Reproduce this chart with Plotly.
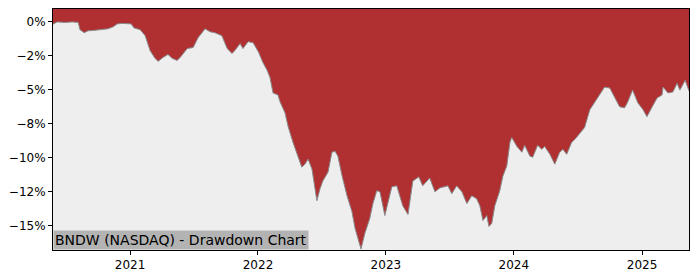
import plotly.graph_objects as go

dates = [
    "2020-05-26", "2020-06-07", "2020-06-30", "2020-07-20", "2020-08-06", "2020-08-11",
    "2020-08-23", "2020-09-03", "2020-09-23", "2020-10-13", "2020-10-30", "2020-11-14",
    "2020-11-25", "2020-12-09", "2020-12-23", "2021-01-04", "2021-01-12", "2021-01-30",
    "2021-02-13", "2021-02-27", "2021-03-13", "2021-03-22", "2021-04-05", "2021-04-19",
    "2021-05-01", "2021-05-15", "2021-05-24", "2021-06-13", "2021-06-30", "2021-07-14",
    "2021-08-03", "2021-08-17", "2021-08-31", "2021-09-20", "2021-10-05", "2021-10-19",
    "2021-10-27", "2021-11-11", "2021-11-19", "2021-12-04", "2021-12-18", "2022-01-03",
    "2022-01-15", "2022-01-27", "2022-02-04", "2022-02-13", "2022-02-27", "2022-03-05",
    "2022-03-19", "2022-03-28", "2022-04-11", "2022-04-25", "2022-05-06", "2022-05-15",
    "2022-05-24", "2022-06-04", "2022-06-13", "2022-06-18", "2022-06-27", "2022-07-05",
    "2022-07-20", "2022-07-31", "2022-08-09", "2022-08-17", "2022-08-29", "2022-09-12",
    "2022-09-26", "2022-10-05", "2022-10-13", "2022-10-22", "2022-11-02", "2022-11-16",
    "2022-11-25", "2022-12-06", "2022-12-15", "2022-12-29", "2023-01-18", "2023-02-01",
    "2023-02-18", "2023-03-05", "2023-03-19", "2023-04-05", "2023-04-16", "2023-05-06",
    "2023-05-21", "2023-06-04", "2023-06-27", "2023-07-08", "2023-07-22", "2023-08-06",
    "2023-08-20", "2023-09-03", "2023-09-17", "2023-09-26", "2023-10-05", "2023-10-16",
    "2023-10-22", "2023-10-30", "2023-11-08", "2023-11-22", "2023-12-01", "2023-12-12",
    "2023-12-21", "2023-12-26", "2024-01-10", "2024-01-24", "2024-02-01", "2024-02-16",
    "2024-02-24", "2024-03-09", "2024-03-21", "2024-03-29", "2024-04-13", "2024-04-27",
    "2024-05-11", "2024-05-20", "2024-05-31", "2024-06-14", "2024-06-23", "2024-07-07",
    "2024-07-21", "2024-08-05", "2024-08-19", "2024-09-02", "2024-09-16", "2024-10-01",
    "2024-10-15", "2024-10-29", "2024-11-12", "2024-11-20", "2024-12-05", "2024-12-20",
    "2025-01-04", "2025-01-15", "2025-01-30", "2025-02-13", "2025-02-27", "2025-03-02",
    "2025-03-16", "2025-03-30", "2025-04-11", "2025-04-19", "2025-05-04", "2025-05-12",
    "2025-05-15",
]

drawdown_pct = [
    -0.17, 0.00, -0.04, 0.00, -0.04, -0.58,
    -0.80, -0.66, -0.62, -0.58, -0.51, -0.36,
    -0.15, -0.11, -0.11, -0.15, -0.44, -0.58,
    -1.02, -2.11, -2.69, -2.91, -2.62, -2.40,
    -2.69, -2.84, -2.62, -1.97, -1.89, -1.17,
    -0.51, -0.73, -0.80, -1.02, -1.97, -2.33,
    -2.11, -1.60, -1.97, -1.46, -1.53, -2.26,
    -2.99, -3.57, -4.08, -5.24, -5.39, -5.90,
    -6.70, -7.72, -8.89, -9.90, -10.71, -10.49,
    -10.12, -10.85, -12.53, -13.18, -12.31, -11.73,
    -11.07, -9.61, -9.54, -9.90, -11.36, -12.82,
    -13.98, -15.22, -15.95, -16.75, -15.59, -14.49,
    -13.40, -12.45, -12.53, -14.28, -12.16, -12.09,
    -13.55, -14.20, -11.73, -11.43, -12.09, -11.51,
    -12.53, -12.24, -12.09, -12.67, -12.09, -12.53,
    -13.40, -12.82, -13.04, -13.55, -14.64, -14.28,
    -15.08, -14.86, -13.55, -12.45, -11.36, -10.63,
    -8.89, -8.52, -9.18, -9.61, -9.10, -9.90,
    -9.98, -9.10, -9.40, -9.18, -9.76, -10.49,
    -9.61, -9.40, -9.76, -8.89, -8.67, -8.23,
    -7.79, -6.48, -5.90, -5.39, -4.81, -4.88,
    -5.61, -6.26, -6.34, -5.97, -5.03, -5.97,
    -6.48, -6.99, -6.26, -5.61, -5.39, -4.81,
    -5.24, -5.17, -4.52, -5.03, -4.30, -4.88,
    -5.10,
]

y_tick_values = [0, -2.5, -5, -7.5, -10, -12.5, -15]
y_tick_labels = ["0%", "\u22122%", "\u22125%", "\u22128%", "\u221210%", "\u221212%", "\u221215%"]
x_tick_values = ["2021-01-01", "2022-01-01", "2023-01-01", "2024-01-01", "2025-01-01"]
x_tick_labels = ["2021", "2022", "2023", "2024", "2025"]
title_text = "BNDW (NASDAQ) - Drawdown Chart"

Y_MIN, Y_MAX = -16.82, 0.95
RED = "#b03032"
BG = "#eeeeee"
FONT = "DejaVu Sans"

fig = go.Figure()
fig.add_trace(go.Scatter(
    x=dates, y=drawdown_pct, mode="lines",
    line=dict(color="#8a8a8a", width=1), hoverinfo="skip", showlegend=False,
))
fig.add_trace(go.Scatter(
    x=dates, y=[Y_MAX] * len(dates), mode="lines",
    line=dict(color=RED, width=0), fill="tonexty", fillcolor=RED,
    hoverinfo="skip", showlegend=False,
))

axis_common = dict(
    showgrid=False, zeroline=False, showline=True, linecolor="black", linewidth=1,
    mirror=True, ticks="outside", ticklen=4, tickwidth=1, tickcolor="black",
    tickfont=dict(family=FONT, size=12, color="black"),
)
fig.update_xaxes(
    type="date", range=[dates[0], dates[-1]],
    tickvals=x_tick_values, ticktext=x_tick_labels, **axis_common,
)
fig.update_yaxes(
    range=[Y_MIN, Y_MAX], tickvals=y_tick_values, ticktext=y_tick_labels,
    **axis_common,
)
fig.add_annotation(
    text=title_text, xref="paper", yref="paper", x=0, y=0,
    xanchor="left", yanchor="bottom", showarrow=False,
    font=dict(family=FONT, size=14, color="black"),
    bgcolor="#b3b3b3", borderpad=1,
)
fig.update_layout(
    width=700, height=280,
    margin=dict(l=53, r=11, t=8, b=28),
    plot_bgcolor=BG, paper_bgcolor="white",
    font=dict(family=FONT),
)
fig.write_html("out.html")
